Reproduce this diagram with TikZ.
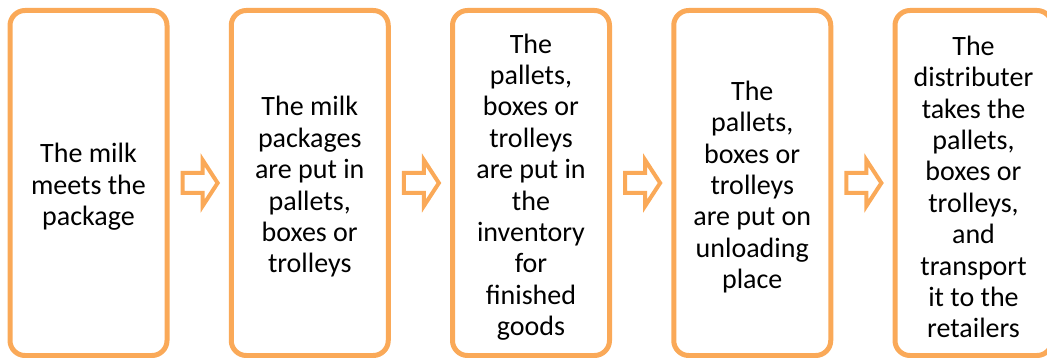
\documentclass[tikz,border=0pt]{standalone}
\usepackage{fontspec}
\setmainfont{Carlito}
\usetikzlibrary{calc}
\definecolor{boxorange}{RGB}{250,169,88}
\tikzset{
  stepbox/.style={draw=boxorange, line width=5pt, fill=white, rounded corners=15pt,
    minimum width=157pt, minimum height=345pt, inner sep=0pt},
  steptext/.style={align=center, inner sep=0pt, yshift=-4pt,
    font=\fontsize{28pt}{31.4pt}\selectfont, text=black},
  blockarrow/.style={draw=boxorange, line width=4pt, fill=white, line join=miter}
}
\begin{document}
\begin{tikzpicture}[x=1pt, y=-1pt]
  \useasboundingbox (0,0) rectangle (1047,358);
  % process steps
  \node[stepbox, label={[steptext]center:{The milk\\meets the\\package}}] (s1) at (88.5,183) {};
  \node[stepbox, label={[steptext]center:{The milk\\packages\\are put in\\pallets,\\boxes or\\trolleys}}] (s2) at (309.75,183) {};
  \node[stepbox, label={[steptext]center:{The\\pallets,\\boxes or\\trolleys\\are put in\\the\\inventory\\for\\finished\\goods}}] (s3) at (531,183) {};
  \node[stepbox, label={[steptext]center:{The\\pallets,\\boxes or\\trolleys\\are put on\\unloading\\place}}] (s4) at (752.25,183) {};
  \node[stepbox, label={[steptext]center:{The\\distributer\\takes the\\pallets,\\boxes or\\trolleys,\\and\\transport\\it to the\\retailers}}] (s5) at (973.5,183) {};
  % hollow block arrows in the gaps between the steps
  \foreach \a/\b in {s1/s2, s2/s3, s3/s4, s4/s5} {
    \coordinate (m-\a) at ($($(\a.east)!0.5!(\b.west)$)+(1.5,0)$);
    \draw[blockarrow]
      ($(m-\a)+(-18,-10)$) -- ($(m-\a)+(2,-10)$) -- ($(m-\a)+(2,-23)$)
      -- ($(m-\a)+(17,0)$) -- ($(m-\a)+(2,23)$) -- ($(m-\a)+(2,10)$)
      -- ($(m-\a)+(-18,10)$) -- cycle;
  }
\end{tikzpicture}
\end{document}
